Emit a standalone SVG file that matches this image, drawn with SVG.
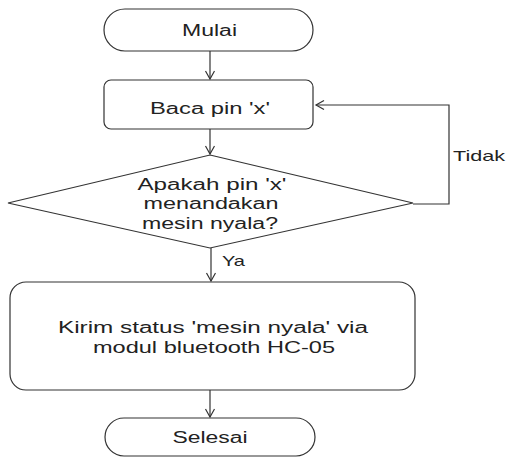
<svg xmlns="http://www.w3.org/2000/svg" width="507" height="457" viewBox="0 0 507 457">
<defs>
<style>
.shape{fill:#fff;stroke:#333;stroke-width:1.2}
.line{fill:none;stroke:#333;stroke-width:1.2}
.t{font-family:"Liberation Sans",Arial,sans-serif;font-size:16px;fill:#222;text-anchor:middle}
.lbl{font-family:"Liberation Sans",Arial,sans-serif;font-size:15px;fill:#222}
</style>
<marker id="arr" markerWidth="12" markerHeight="12" refX="9" refY="5" orient="auto" markerUnits="userSpaceOnUse">
<path d="M1,0.5 L9,5 L1,9.5" fill="none" stroke="#333" stroke-width="1.2"/>
</marker>
</defs>
<rect width="507" height="457" fill="#fff"/>
<g id="connectors">
<line class="line" x1="210" y1="51" x2="210" y2="79" marker-end="url(#arr)"/>
<line class="line" x1="210" y1="129" x2="210" y2="154" marker-end="url(#arr)"/>
<line class="line" x1="211" y1="248" x2="211" y2="281" marker-end="url(#arr)"/>
<line class="line" x1="210" y1="390" x2="210" y2="417" marker-end="url(#arr)"/>
<polyline class="line" points="413,204 449,204 449,105 316,105" marker-end="url(#arr)"/>
<text class="lbl" x="453" y="161" textLength="52" lengthAdjust="spacingAndGlyphs">Tidak</text>
<text class="lbl" x="222" y="266" textLength="23" lengthAdjust="spacingAndGlyphs">Ya</text>
</g>
<g id="mulai">
<rect class="shape" x="104" y="9" width="209" height="42" rx="21" ry="21"/>
<text class="t" x="209.5" y="36" textLength="55" lengthAdjust="spacingAndGlyphs">Mulai</text>
</g>
<g id="baca">
<rect class="shape" x="104" y="80" width="209" height="49" rx="7" ry="7"/>
<text class="t" x="210" y="114" textLength="120" lengthAdjust="spacingAndGlyphs">Baca pin 'x'</text>
</g>
<g id="decision">
<polygon class="shape" points="210,155 413,203 210,248 8,203"/>
<text class="t" x="212" y="190" textLength="149" lengthAdjust="spacingAndGlyphs">Apakah pin 'x'</text>
<text class="t" x="211" y="209" textLength="135" lengthAdjust="spacingAndGlyphs">menandakan</text>
<text class="t" x="210" y="229" textLength="136" lengthAdjust="spacingAndGlyphs">mesin nyala?</text>
</g>
<g id="kirim">
<rect class="shape" x="10" y="282" width="405" height="108" rx="16" ry="16"/>
<text class="t" x="213" y="333" textLength="310" lengthAdjust="spacingAndGlyphs">Kirim status 'mesin nyala' via</text>
<text class="t" x="214" y="353" textLength="242" lengthAdjust="spacingAndGlyphs">modul bluetooth HC-05</text>
</g>
<g id="selesai">
<rect class="shape" x="105" y="418" width="210" height="38" rx="19" ry="19"/>
<text class="t" x="210" y="443" textLength="75" lengthAdjust="spacingAndGlyphs">Selesai</text>
</g>
</svg>
